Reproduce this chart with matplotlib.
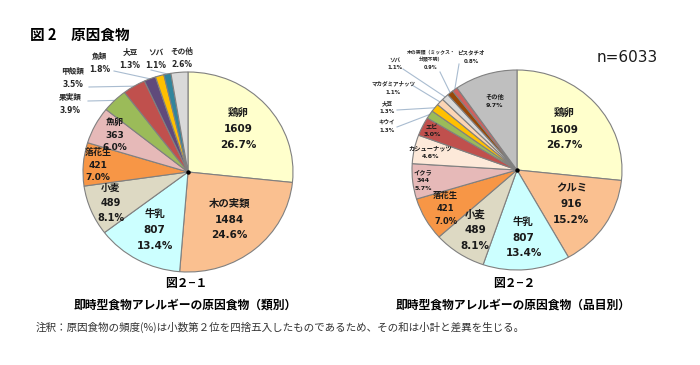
import numpy as np
import matplotlib
matplotlib.use('Agg')
import matplotlib.pyplot as plt

# ---------------- data ----------------
cat1 = ['鶏卵', '木の実類', '牛乳', '小麦', '落花生', '魚卵', '果実類', '甲殻類', '魚類', '大豆', 'ソバ', 'その他']
cnt1 = [1609, 1484, 807, 489, 421, 363, 236, 213, 109, 79, 66, 157]
pct1 = ['26.7%', '24.6%', '13.4%', '8.1%', '7.0%', '6.0%', '3.9%', '3.5%', '1.8%', '1.3%', '1.1%', '2.6%']

cat2 = ['鶏卵', 'クルミ', '牛乳', '小麦', '落花生', 'イクラ', 'カシューナッツ', 'エビ', 'キウイ', '大豆',
        'マカダミアナッツ', 'ソバ', '木の実類（ミックス・\n分類不明）', 'ピスタチオ', 'その他']
cnt2 = [1609, 916, 807, 489, 421, 344, 280, 184, 80, 79, 68, 66, 56, 50, 584]
pct2 = ['26.7%', '15.2%', '13.4%', '8.1%', '7.0%', '5.7%', '4.6%', '3.0%', '1.3%', '1.3%',
        '1.1%', '1.1%', '0.9%', '0.8%', '9.7%']
n_total = 6033

# ---------------- styles ----------------
col1 = ['#FFFFCC', '#FAC090', '#CCFFFF', '#DDD9C3', '#F79646', '#E6B9B8', '#9BBB59',
        '#C0504D', '#604A7B', '#FFC000', '#31859C', '#D9D9D9']
col2 = ['#FFFFCC', '#FAC090', '#CCFFFF', '#DDD9C3', '#F79646', '#E6B9B8', '#FDE9D9',
        '#C0504D', '#9BBB59', '#FFC000', '#FCD5B4', '#D9D9D9', '#984807', '#D0605E', '#BFBFBF']

W, H = 700, 365
RX, RY = 105, 100
FAM = ['DejaVu Sans', 'Noto Sans CJK JP']
CJK = ['Noto Sans CJK JP', 'DejaVu Sans']
LEADER = '#A9BCD0'

fig = plt.figure(figsize=(W / 100, H / 100), dpi=100)
fig.patch.set_facecolor('white')

bg = fig.add_axes([0, 0, 1, 1])
bg.set_xlim(0, W)
bg.set_ylim(H, 0)
bg.axis('off')


def make_pie(cx, cy, vals, cols):
    ax = fig.add_axes([(cx - 1.25 * RX) / W, (H - cy - 1.25 * RY) / H, 2.5 * RX / W, 2.5 * RY / H])
    wedges, _ = ax.pie(vals, colors=cols, startangle=90, counterclock=False, radius=1,
                       wedgeprops=dict(edgecolor='#808080', linewidth=0.8))
    ax.set_aspect('auto')
    ax.set_xlim(-1.25, 1.25)
    ax.set_ylim(-1.25, 1.25)
    ax.axis('off')
    ax.plot([0], [0], marker='o', ms=2.2, color='black', zorder=5)
    mids = [np.deg2rad((w.theta1 + w.theta2) / 2) for w in wedges]
    return ax, mids


def px2u(cx, cy, x, y):
    return (x - cx) / RX, (cy - y) / RY


def inner_labels(ax, mids, cats, cnts, pcts, spec):
    for i, r, fs, ls, withcnt in spec:
        a = mids[i]
        txt = f'{cats[i]}\n{cnts[i]}\n{pcts[i]}' if withcnt else f'{cats[i]}\n{pcts[i]}'
        ax.text(r * np.cos(a), r * np.sin(a), txt, ha='center', va='center',
                fontsize=fs, fontweight='bold', family=FAM, color='#1a1a1a',
                linespacing=ls, clip_on=False)


def outer_labels(ax, mids, cx, cy, cats, pcts, spec, fs_name, fs_pct, ls):
    for i, (tx, ty, start, fs) in spec.items():
        ux, uy = px2u(cx, cy, tx, ty)
        ax.text(ux, uy, f'{cats[i]}\n{pcts[i]}', ha='center', va='center',
                fontsize=fs if fs else fs_name, fontweight='bold', family=FAM, color='#262626',
                linespacing=ls, clip_on=False)
        if start is not None:
            sx, sy = px2u(cx, cy, *start)
            a = mids[i]
            ax.plot([sx, np.cos(a)], [sy, np.sin(a)], color=LEADER, lw=0.8,
                    clip_on=False, zorder=0.5)


# ---------------- pie 1 ----------------
cx1, cy1 = 188, 172
ax1, mids1 = make_pie(cx1, cy1, cnt1, col1)
inner_labels(ax1, mids1, cat1, cnt1, pct1, [
    (0, 0.64, 7.5, 1.7, True),
    (1, 0.62, 7.5, 1.7, True),
    (2, 0.66, 7.5, 1.7, True),
    (3, 0.80, 7, 1.6, True),
    (4, 0.86, 6.5, 1.5, True),
    (5, 0.79, 6.5, 1.5, True),
])
outer_labels(ax1, mids1, cx1, cy1, cat1, pct1, {
    6: (70, 104, (88, 101), None),
    7: (73, 78, (89, 87), None),
    8: (100, 63, (114, 71), None),
    9: (130, 59, None, None),
    10: (156, 59, (151, 70), None),
    11: (182, 58, None, None),
}, 5.5, 5.5, 1.7)

# ---------------- pie 2 ----------------
cx2, cy2 = 517, 170
ax2, mids2 = make_pie(cx2, cy2, cnt2, col2)
inner_labels(ax2, mids2, cat2, cnt2, pct2, [
    (0, 0.60, 7.5, 1.7, True),
    (1, 0.62, 7.5, 1.7, True),
    (2, 0.68, 7.5, 1.7, True),
    (3, 0.72, 7.5, 1.7, True),
    (4, 0.78, 6, 1.6, True),
    (5, 0.90, 4.5, 1.6, True),
])
for i, r in [(6, 0.84), (7, 0.90), (14, 0.72)]:
    a = mids2[i]
    ax2.text(r * np.cos(a), r * np.sin(a), f'{cat2[i]}\n{pct2[i]}', ha='center', va='center',
             fontsize=4.5, fontweight='bold', family=FAM, color='#1a1a1a',
             linespacing=1.7, clip_on=False)
outer_labels(ax2, mids2, cx2, cy2, cat2, pct2, {
    8: (387, 126, (397, 127), None),
    9: (387, 107, (397, 110), None),
    10: (393, 88, (412, 85), None),
    11: (395, 64, (403, 69), None),
    12: (431, 60, (440, 72), 3.5),
    13: (471, 57, (459, 64), None),
}, 4, 4, 1.7)

# ---------------- texts ----------------
bg.text(30, 35, '図 2　原因食物', fontsize=10.5, fontweight='bold', family=CJK,
        ha='left', va='center', color='black')
bg.text(627, 57, f'n={n_total}', fontsize=11, family=FAM, ha='center', va='center', color='#1a1a1a')
bg.text(186, 284, '図２−１', fontsize=8.5, fontweight='bold', family=CJK, ha='center', va='center')
bg.text(514, 284, '図２−２', fontsize=8.5, fontweight='bold', family=CJK, ha='center', va='center')
bg.text(185, 305, '即時型食物アレルギーの原因食物（類別）', fontsize=8.5, fontweight='bold',
        family=CJK, ha='center', va='center')
bg.text(513, 305, '即時型食物アレルギーの原因食物（品目別）', fontsize=8.5, fontweight='bold',
        family=CJK, ha='center', va='center')
bg.text(36, 327, '注釈：原因食物の頻度(%)は小数第２位を四捨五入したものであるため、その和は小計と差異を生じる。',
        fontsize=7.6, family=CJK, ha='left', va='center', color='#333333')

fig.savefig('out.png', dpi=100, facecolor='white')
